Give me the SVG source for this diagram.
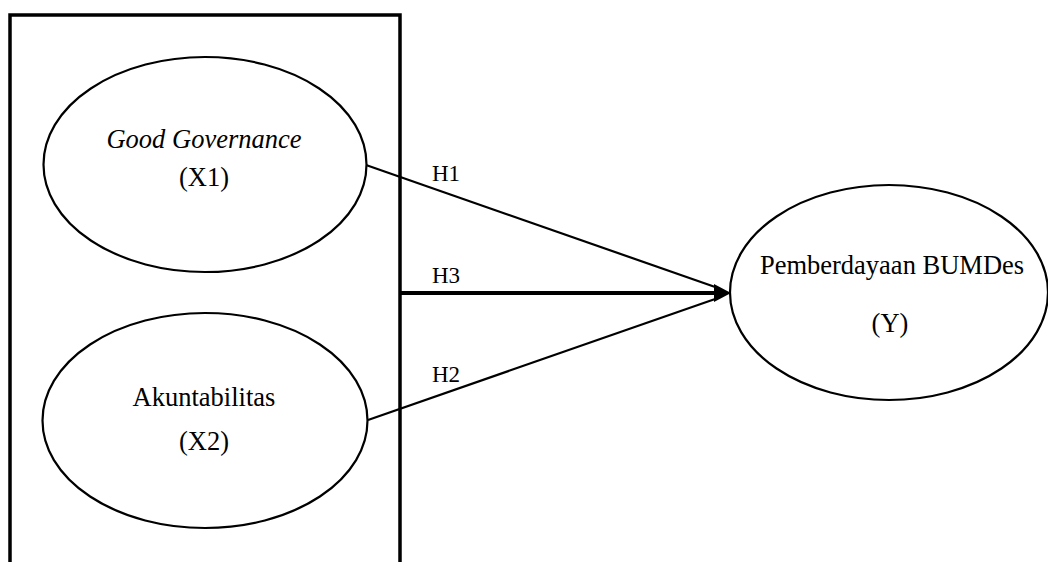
<svg xmlns="http://www.w3.org/2000/svg" width="1048" height="562" viewBox="0 0 1048 562">
<style>
.t{font-family:"Liberation Serif","Times New Roman",serif;font-size:26.5px;fill:#000;text-anchor:middle}
.h{font-family:"Liberation Serif","Times New Roman",serif;font-size:23px;fill:#000}
.e{fill:#fff;stroke:#000;stroke-width:2.2}
.c{stroke:#000;stroke-width:2.2;fill:none}
</style>
<rect x="0" y="0" width="1048" height="562" fill="#fff"/>
<g id="box">
<path d="M10,575 V15 H400 V575" fill="none" stroke="#000" stroke-width="3.5"/>
</g>
<g id="connectors">
<line class="c" x1="366" y1="165" x2="718" y2="288"/>
<line class="c" x1="368" y1="420" x2="718" y2="298"/>
<line x1="400" y1="293" x2="716" y2="293" stroke="#000" stroke-width="4"/>
<polygon points="731,293 714,284 714,302" fill="#000"/>
<text class="h" x="432" y="181">H1</text>
<text class="h" x="432" y="283">H3</text>
<text class="h" x="432" y="382">H2</text>
</g>
<g id="x1">
<ellipse class="e" cx="205" cy="164.5" rx="161.5" ry="107.5"/>
<text class="t" x="204" y="148" font-style="italic">Good Governance</text>
<text class="t" x="204" y="186">(X1)</text>
</g>
<g id="x2">
<ellipse class="e" cx="205" cy="420.5" rx="162.5" ry="107.5"/>
<text class="t" x="204" y="406">Akuntabilitas</text>
<text class="t" x="204" y="450">(X2)</text>
</g>
<g id="y">
<ellipse class="e" cx="889" cy="292.5" rx="159" ry="107.5"/>
<text class="t" x="892" y="274">Pemberdayaan BUMDes</text>
<text class="t" x="890" y="332">(Y)</text>
</g>
</svg>
